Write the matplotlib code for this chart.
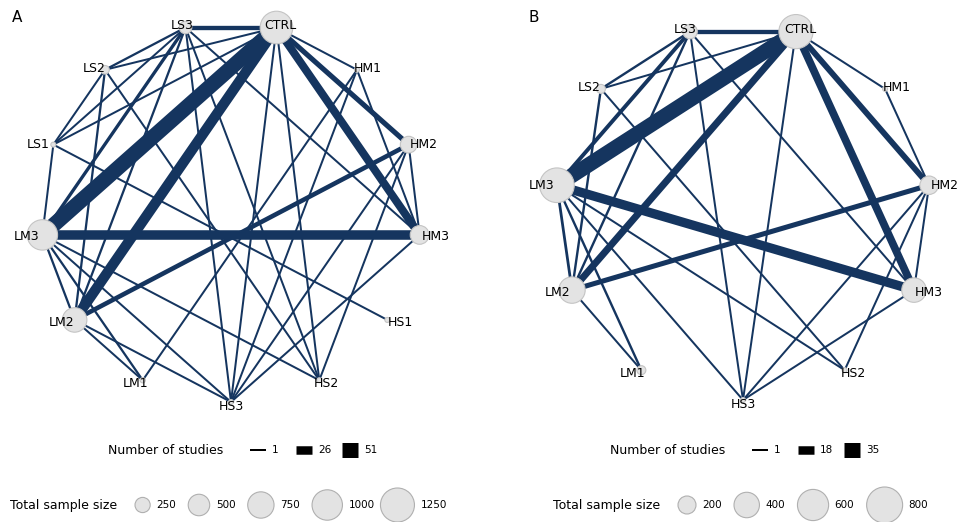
import numpy as np
import matplotlib.pyplot as plt
from matplotlib.patches import Circle

EDGE = '#15355f'

# panel A
nodes_a = ['CTRL', 'HM1', 'HM2', 'HM3', 'HS1', 'HS2', 'HS3', 'LM1', 'LM2', 'LM3', 'LS1', 'LS2', 'LS3']
size_a = [1150, 25, 300, 380, 10, 25, 15, 30, 650, 1000, 25, 80, 170]
edges_a = [('CTRL', 'LS3', 10), ('CTRL', 'LS2', 1), ('CTRL', 'LS1', 1), ('CTRL', 'LM3', 51),
           ('CTRL', 'LM2', 33), ('CTRL', 'HS3', 1), ('CTRL', 'HS2', 1), ('CTRL', 'HM1', 1),
           ('CTRL', 'HM2', 13), ('CTRL', 'HM3', 24), ('LS3', 'LS2', 2), ('LS3', 'LS1', 1),
           ('LS3', 'LM3', 6), ('LS3', 'LM2', 2), ('LS3', 'HS3', 1), ('LS3', 'HM3', 1),
           ('LS3', 'HS2', 1), ('LS2', 'LS1', 1), ('LS2', 'LM2', 2), ('LS2', 'HS2', 1),
           ('LS1', 'HS1', 1), ('LS1', 'LM3', 1), ('LM3', 'HM3', 30), ('LM3', 'LM2', 2),
           ('LM3', 'LM1', 2), ('LM3', 'HS3', 1), ('LM2', 'HM2', 11),
           ('LM2', 'LM1', 1), ('LM2', 'HS3', 1), ('LM1', 'HM1', 1), ('HS3', 'HM2', 1),
           ('HS3', 'HM3', 1), ('HS3', 'HM1', 1), ('HS2', 'HM2', 1), ('HM1', 'HM3', 1),
           ('HM2', 'HM3', 1), ('LM3', 'HS2', 1)]

# panel B
nodes_b = ['CTRL', 'HM1', 'HM2', 'HM3', 'HS2', 'HS3', 'LM1', 'LM2', 'LM3', 'LS2', 'LS3']
size_b = [720, 10, 210, 370, 10, 5, 50, 430, 740, 50, 130]
edges_b = [('CTRL', 'LS3', 7), ('CTRL', 'LM3', 35), ('CTRL', 'LM2', 14), ('CTRL', 'HM3', 16),
           ('CTRL', 'HM2', 11), ('CTRL', 'HM1', 1), ('CTRL', 'HS3', 1), ('CTRL', 'LS2', 1),
           ('LS3', 'LS2', 2), ('LS3', 'LM3', 6), ('LS3', 'LM2', 2), ('LS3', 'HS3', 1),
           ('LS3', 'HM3', 1), ('LS2', 'LM2', 2), ('LS2', 'HS2', 1), ('LM3', 'HM3', 20),
           ('LM3', 'LM2', 3), ('LM3', 'LM1', 2), ('LM3', 'HS3', 1), ('LM3', 'HS2', 1),
           ('LM2', 'HM2', 9), ('LM2', 'LM1', 1), ('HM2', 'HM1', 1), ('HM2', 'HM3', 1),
           ('HM2', 'HS2', 1), ('HM2', 'HS3', 1), ('HM3', 'HS3', 1)]


def lw(n, nmax):
    # pixel width -> points
    return (2.0 + 13.0 * (n - 1) / (nmax - 1)) * 0.72


def draw_net(ax, nodes, sizes, edges, cx, cy, r, dmax, smax, nmax):
    k = len(nodes)
    step = 2 * np.pi / k
    pos = {}
    for i, n in enumerate(nodes):
        th = step / 2 + i * step
        pos[n] = (th, cx + r * np.sin(th), cy - r * np.cos(th))
    for a, b, n in edges:
        ax.plot([pos[a][1], pos[b][1]], [pos[a][2], pos[b][2]], color=EDGE,
                lw=lw(n, nmax), solid_capstyle='butt', zorder=1)
    for n, s in zip(nodes, sizes):
        th, x, y = pos[n]
        rad = dmax / 2 * np.sqrt(s / smax)
        ax.add_patch(Circle((x, y), max(rad, 2.5), fc='#e3e3e3', ec='#c4c4c4', lw=0.8, zorder=2))
        ax.text(x + 16 * np.sin(th), y - 3 * np.cos(th) + 1, n, ha='center', va='center',
                fontsize=9, zorder=3)


fig = plt.figure(figsize=(9.57, 5.22), dpi=100)
ax = fig.add_axes([0, 0, 1, 1])
ax.set_xlim(0, 957)
ax.set_ylim(522, 0)
ax.axis('off')

draw_net(ax, nodes_a, size_a, edges_a, 231, 212, 190, 34, 1250, 51)
draw_net(ax, nodes_b, size_b, edges_b, 743, 212, 188, 36, 800, 35)
ax.text(12, 18, 'A', fontsize=11, va='center')
ax.text(528, 18, 'B', fontsize=11, va='center')

# legends
study_a = [1, 26, 51]
study_b = [1, 18, 35]
samp_a = [250, 500, 750, 1000, 1250]
samp_b = [200, 400, 600, 800]


def study_legend(x0, vals, nmax):
    ax.text(x0, 450, 'Number of studies', fontsize=9, va='center')
    x = x0 + 142
    for v in vals:
        ax.plot([x, x + 16], [450, 450], color='black', lw=lw(v, nmax), solid_capstyle='butt')
        ax.text(x + 22, 450, str(v), fontsize=7.5, va='center')
        x += 46


def samp_legend(x0, vals, dmax, smax):
    ax.text(x0, 505, 'Total sample size', fontsize=9, va='center')
    x = x0 + 125
    for v in vals:
        rad = dmax / 2 * np.sqrt(v / smax)
        ax.add_patch(Circle((x + rad, 505), rad, fc='#e3e3e3', ec='#b0b0b0', lw=0.8))
        ax.text(x + 2 * rad + 6, 505, str(v), fontsize=7.5, va='center')
        x += 2 * rad + 38


study_legend(108, study_a, 51)
study_legend(610, study_b, 35)
samp_legend(10, samp_a, 34, 1250)
samp_legend(553, samp_b, 36, 800)

fig.savefig('out.png', dpi=100)
